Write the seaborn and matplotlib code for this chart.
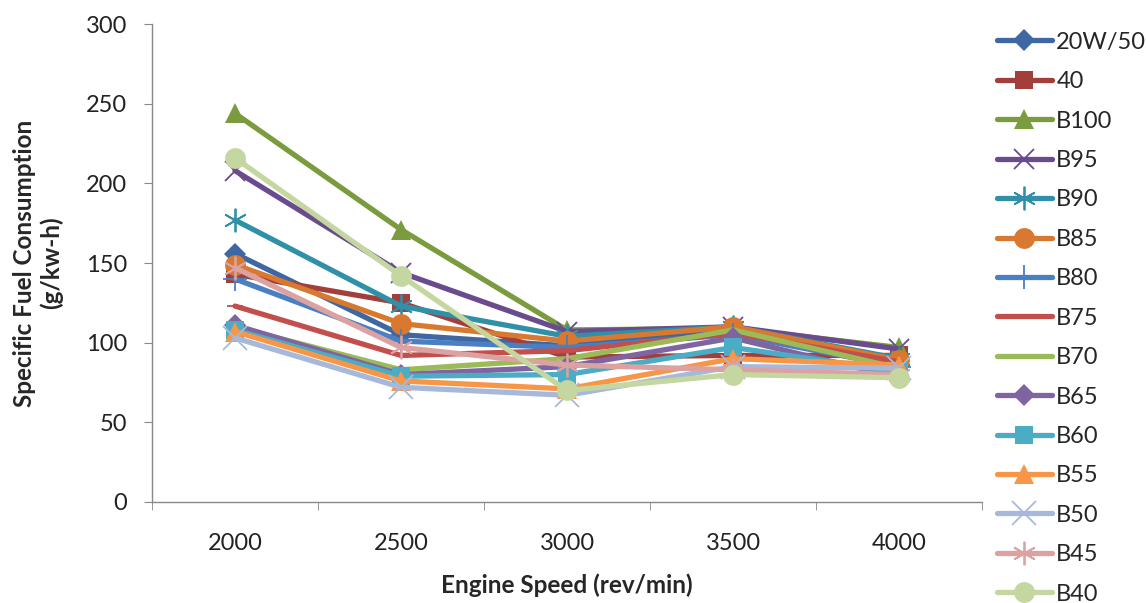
import pandas as pd
import matplotlib
matplotlib.use("Agg")
import matplotlib.pyplot as plt
import seaborn as sns

speeds = [2000, 2500, 3000, 3500, 4000]
series = ["20W/50", "40", "B100", "B95", "B90", "B85", "B80", "B75",
          "B70", "B65", "B60", "B55", "B50", "B45", "B40"]

sfc_20w50 = [156, 105, 98, 108, 86]
sfc_40 = [143, 125, 91, 92, 92]
sfc_b100 = [244, 171, 108, 109, 97]
sfc_b95 = [208, 144, 107, 110, 96]
sfc_b90 = [177, 123, 104, 110, 90]
sfc_b85 = [149, 112, 101, 110, 89]
sfc_b80 = [140, 101, 97, 105, 85]
sfc_b75 = [123, 92, 95, 106, 88]
sfc_b70 = [110, 83, 90, 108, 84]
sfc_b65 = [111, 80, 85, 103, 78]
sfc_b60 = [108, 79, 80, 97, 82]
sfc_b55 = [107, 76, 71, 90, 86]
sfc_b50 = [103, 72, 67, 85, 84]
sfc_b45 = [147, 97, 86, 83, 80]
sfc_b40 = [216, 142, 70, 80, 78]

values = [sfc_20w50, sfc_40, sfc_b100, sfc_b95, sfc_b90, sfc_b85, sfc_b80,
          sfc_b75, sfc_b70, sfc_b65, sfc_b60, sfc_b55, sfc_b50, sfc_b45, sfc_b40]

colors = ["#3F67A3", "#A23F3C", "#7A9B3E", "#6A4C8E", "#2F90A8", "#D8792F",
          "#4A7FC1", "#C24F4C", "#9BBB59", "#8064A2", "#4BACC6", "#F79646",
          "#A7B9DA", "#DBA2A1", "#C4D7A0"]
asterisk = (6, 2, 0)
markers = ["D", "s", "^", "x", asterisk, "o", "+", "_",
           "None", "D", "s", "^", "x", asterisk, "o"]
msizes = [11, 13, 14, 15, 17, 15, 17, 12, 8, 11, 13, 14, 17, 17, 15]

rows = []
for name, vals in zip(series, values):
    for s, v in zip(speeds, vals):
        rows.append({"fuel": name, "speed": s, "sfc": v})
df = pd.DataFrame(rows)

sns.set_style("white")
plt.rcParams["font.family"] = ["Lato", "DejaVu Sans"]

fig = plt.figure(figsize=(11.46, 6.03), dpi=100)
ax = fig.add_axes([0.1326, 0.1675, 0.7244, 0.7925])

for name, col, mk, ms in zip(series, colors, markers, msizes):
    sub = df[df["fuel"] == name]
    line_mk = mk in ("x", "+", asterisk, "_")
    sns.lineplot(data=sub, x="speed", y="sfc", ax=ax, color=col, marker=mk,
                 markersize=ms, markeredgewidth=1.3 if line_mk else 0,
                 markeredgecolor=col, linewidth=3.8, label=name, sort=False,
                 errorbar=None)

ax.set_xlim(1750, 4250)
ax.set_ylim(0, 300)
ax.set_xticks(speeds)
ax.set_xticks([1750, 2250, 2750, 3250, 3750, 4250], minor=True)
ax.set_yticks(range(0, 301, 50))
ax.tick_params(axis="both", which="major", labelsize=17, colors="#222222")
ax.tick_params(axis="y", length=6, color="#888888", direction="out", left=True, pad=12)
ax.tick_params(axis="x", which="major", length=0, pad=22)
ax.tick_params(axis="x", which="minor", length=6, color="#888888", direction="out", bottom=True)
for side in ["top", "right"]:
    ax.spines[side].set_visible(False)
for side in ["left", "bottom"]:
    ax.spines[side].set_color("#888888")
    ax.spines[side].set_linewidth(1)

ax.set_xlabel("Engine Speed (rev/min)", fontsize=17.5, fontweight="bold", labelpad=14)
ax.set_ylabel("Specific Fuel Consumption\n(g/kw-h)", fontsize=17.5, fontweight="bold", labelpad=16)

ax.legend(loc="upper left", bbox_to_anchor=(0.862, 0.963), bbox_transform=fig.transFigure,
          frameon=False, fontsize=17, labelspacing=0.78, handlelength=2.3,
          handletextpad=0.2, borderaxespad=0)

fig.savefig("out.png", dpi=100)
